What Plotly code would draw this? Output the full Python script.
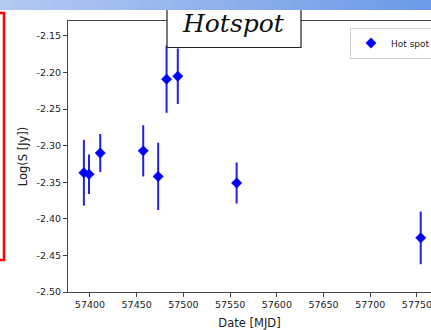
import plotly.graph_objects as go

# ---- data ----
mjd = [57393.5, 57399, 57411, 57457, 57473, 57482, 57494, 57557, 57754]
log_s = [-2.337, -2.339, -2.310, -2.307, -2.342, -2.209, -2.205, -2.351, -2.426]
log_s_err = [0.045, 0.027, 0.026, 0.035, 0.046, 0.046, 0.038, 0.028, 0.036]
x_ticks = [57400, 57450, 57500, 57550, 57600, 57650, 57700, 57750]
y_ticks = [-2.50, -2.45, -2.40, -2.35, -2.30, -2.25, -2.20, -2.15]
series_name = "Hot spot"
title_text = "Hotspot"

W, H = 431, 330
L, R, T, B = 68, 0, 21, 38
PW, PH = W - L - R, H - T - B


def px(xp):
    return (xp - L) / PW


def py(yp):
    return (H - B - yp) / PH


fig = go.Figure()
fig.add_trace(go.Scatter(
    x=mjd, y=log_s, mode="markers", name=series_name,
    marker=dict(symbol="diamond", size=8, color="#0000ff",
                line=dict(width=0.5, color="#0000ff")),
    error_y=dict(type="data", array=log_s_err, visible=True, color="#2020e8",
                 thickness=2, width=0),
))

shapes = []
# title box (covers tops of error bars and the top frame line)
shapes.append(dict(type="rect", xref="paper", yref="paper",
                   x0=px(167), x1=px(301), y0=py(47.5), y1=py(4),
                   fillcolor="white", line=dict(color="#222222", width=1.2),
                   layer="above"))
# blue gradient band at top of the slide
n = 40
c0 = (178, 202, 242)
c1 = (108, 154, 230)
for i in range(n):
    f = i / (n - 1)
    col = "rgb(%d,%d,%d)" % tuple(int(c0[k] + (c1[k] - c0[k]) * f) for k in range(3))
    shapes.append(dict(type="rect", xref="paper", yref="paper",
                       x0=px(W * i / n - 0.5), x1=px(W * (i + 1) / n + 0.5),
                       y0=py(10), y1=py(-2),
                       fillcolor=col, line=dict(width=0), layer="above"))
# red outline box on the left edge
shapes.append(dict(type="rect", xref="paper", yref="paper",
                   x0=px(-6), x1=px(4), y0=py(260), y1=py(13),
                   fillcolor="rgba(0,0,0,0)", line=dict(color="#ff0000", width=2.5),
                   layer="above"))

fig.update_layout(
    width=W, height=H,
    margin=dict(l=L, r=R, t=T, b=B, autoexpand=False),
    paper_bgcolor="white", plot_bgcolor="white",
    font=dict(family="DejaVu Sans", size=9.5, color="#222222"),
    shapes=shapes,
    showlegend=True,
    legend=dict(x=px(350), y=py(27.5), xanchor="left", yanchor="top",
                bgcolor="white", bordercolor="#d0d0d0", borderwidth=1,
                font=dict(size=9, color="#222222"), itemwidth=30),
    annotations=[dict(text=title_text, xref="paper", yref="paper",
                      x=px(233), y=py(24), xanchor="center", yanchor="middle",
                      showarrow=False,
                      font=dict(family="DejaVu Serif", size=25, style="italic",
                                color="#111111"))],
)

fig.update_xaxes(
    range=[57376.5, 57765], tickvals=x_ticks, ticktext=[str(v) for v in x_ticks],
    showgrid=False, zeroline=False, showline=True, linecolor="#444444", linewidth=1,
    mirror=True, ticks="outside", ticklen=4, tickcolor="#444444",
    ticklabeloverflow="allow",
    title=dict(text="Date [MJD]", font=dict(size=11.5, color="#222222"), standoff=9),
    automargin=False,
)
fig.update_yaxes(
    range=[-2.50, -2.1295], tickvals=y_ticks, ticktext=["%.2f" % v for v in y_ticks],
    showgrid=False, zeroline=False, showline=True, linecolor="#444444", linewidth=1,
    ticks="outside", ticklen=4, tickcolor="#444444",
    title=dict(text="Log(S [Jy])", font=dict(size=11.5, color="#222222"), standoff=6),
    automargin=False,
)

fig.write_html("out.html")
